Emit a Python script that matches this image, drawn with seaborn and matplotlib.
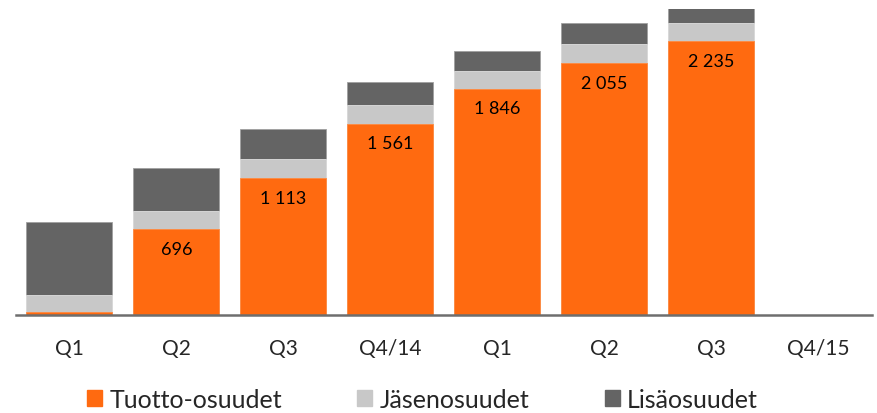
import pandas as pd
import matplotlib
matplotlib.use("Agg")
import matplotlib.pyplot as plt
import seaborn as sns
from matplotlib.patches import Patch

# Data
jaksot = ["Q1/14", "Q2/14", "Q3/14", "Q4/14", "Q1/15", "Q2/15", "Q3/15", "Q4/15"]
tick_labels = ["Q1", "Q2", "Q3", "Q4/14", "Q1", "Q2", "Q3", "Q4/15"]
tuotto = [20, 696, 1113, 1561, 1846, 2055, 2235, 0]
jasen = [145, 148, 155, 150, 147, 158, 150, 0]
lisa = [590, 357, 245, 188, 160, 171, 120, 0]
value_labels = ["", "696", "1 113", "1 561", "1 846", "2 055", "2 235", ""]

c_tuotto = "#FF6A10"
c_jasen = "#C8C8C8"
c_lisa = "#646464"

df = pd.DataFrame({"jakso": jaksot, "tuotto": tuotto, "jasen": jasen, "lisa": lisa})
df["t2"] = df["tuotto"] + df["jasen"]
df["t3"] = df["t2"] + df["lisa"]

sns.set_style("white")
plt.rcParams["font.family"] = ["Lato", "DejaVu Sans"]

fig = plt.figure(figsize=(8.77, 4.14), dpi=100)
ax = fig.add_axes([0.018, 0.2374, 0.976, 0.7396])

# stacked bars: draw totals back to front
sns.barplot(data=df, x="jakso", y="t3", order=jaksot, color=c_lisa, width=0.8,
            edgecolor="#A0A0A0", linewidth=0.6, saturation=1, ax=ax)
sns.barplot(data=df, x="jakso", y="t2", order=jaksot, color=c_jasen, width=0.8,
            edgecolor="#E0E0E0", linewidth=0.6, saturation=1, ax=ax)
sns.barplot(data=df, x="jakso", y="tuotto", order=jaksot, color=c_tuotto, width=0.8,
            edgecolor="#FF8A40", linewidth=0.6, saturation=1, ax=ax)

for i, lab in enumerate(value_labels):
    if lab:
        ax.text(i, tuotto[i] - 160, lab, ha="center", va="center",
                fontsize=13, color="black")

ax.set_ylim(0, 2500)
ax.set_xlim(-0.5, 7.5)
ax.set_xlabel("")
ax.set_ylabel("")
ax.set_yticks([])
ax.set_xticks(range(len(jaksot)))
ax.set_xticklabels(tick_labels, fontsize=15)
ax.tick_params(axis="x", length=0, pad=17)
for s in ["top", "right", "left"]:
    ax.spines[s].set_visible(False)
ax.spines["bottom"].set_color("#6E6E6E")
ax.spines["bottom"].set_linewidth(1.8)

handles = [Patch(color=c_tuotto, label="Tuotto-osuudet"),
           Patch(color=c_jasen, label="Jäsenosuudet"),
           Patch(color=c_lisa, label="Lisäosuudet")]
fig.legend(handles=handles, loc="center", bbox_to_anchor=(0.482, 0.033), ncol=3,
           frameon=False, fontsize=18, handlelength=0.6, handleheight=0.6,
           handletextpad=0.3, columnspacing=3.0, borderpad=0)

fig.savefig("out.png", dpi=100)
